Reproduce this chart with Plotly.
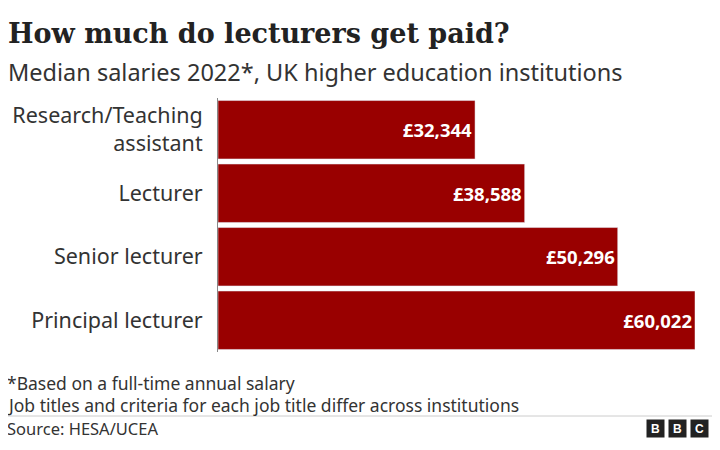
import plotly.graph_objects as go

categories = ["Research/Teaching<br>assistant", "Lecturer", "Senior lecturer", "Principal lecturer"]
values = [32344, 38588, 50296, 60022]
labels = ["<b>£32,344</b>", "<b>£38,588</b>", "<b>£50,296</b>", "<b>£60,022</b>"]

W, H = 704, 434  # page body has 8px margin
def px(x): return (x - 8) / W
def py(y): return 1 - (y - 8) / H

fig = go.Figure(go.Bar(
    x=values, y=categories, orientation="h", marker_color="#990000",
    text=labels, textposition="inside", insidetextanchor="end",
    textfont=dict(color="white", size=18.5, family="Noto Sans"),
))
fig.update_layout(
    width=W, height=H, margin=dict(l=0, r=0, t=0, b=0),
    paper_bgcolor="white", plot_bgcolor="white", showlegend=False, bargap=0.08,
    font=dict(family="Noto Sans", color="#222"),
    xaxis=dict(domain=[px(218), px(695)], range=[0, 60022], visible=False),
    yaxis=dict(domain=[py(352), py(98)], autorange="reversed",
               tickfont=dict(size=21.5, color="#333"), ticks="", ticklabelstandoff=10,
               showline=True, linecolor="#888", linewidth=1),
)
ann = [
    dict(x=px(6), y=py(34), text="<b>How much do lecturers get paid?</b>",
         font=dict(size=27, family="DejaVu Serif", color="#222")),
    dict(x=px(6), y=py(72), text="Median salaries 2022*, UK higher education institutions",
         font=dict(size=23.5, color="#333")),
    dict(x=px(5), y=py(383), text="*Based on a full-time annual salary", font=dict(size=17.5, color="#333")),
    dict(x=px(5), y=py(405), text="Job titles and criteria for each job title differ across institutions",
         font=dict(size=17.5, color="#333")),
    dict(x=px(5), y=py(428), text="Source: HESA/UCEA", font=dict(size=16.5, color="#333")),
]
for a in ann:
    fig.add_annotation(xref="paper", yref="paper", xanchor="left", yanchor="middle",
                       showarrow=False, **a)
fig.add_shape(type="line", xref="paper", yref="paper", x0=0, x1=1,
              y0=py(416), y1=py(416), line=dict(color="#ccc", width=1))
for i, ch in enumerate("BBC"):
    x0 = 646 + i*22
    fig.add_annotation(xref="paper", yref="paper", x=px(x0+9.5), y=py(428.5), text=f"<b>{ch}</b>",
                       showarrow=False, bgcolor="#222", width=15, height=15, borderpad=1,
                       xanchor="center", yanchor="middle",
                       font=dict(size=12, color="white", family="Liberation Sans"))
fig.write_html("out.html")
